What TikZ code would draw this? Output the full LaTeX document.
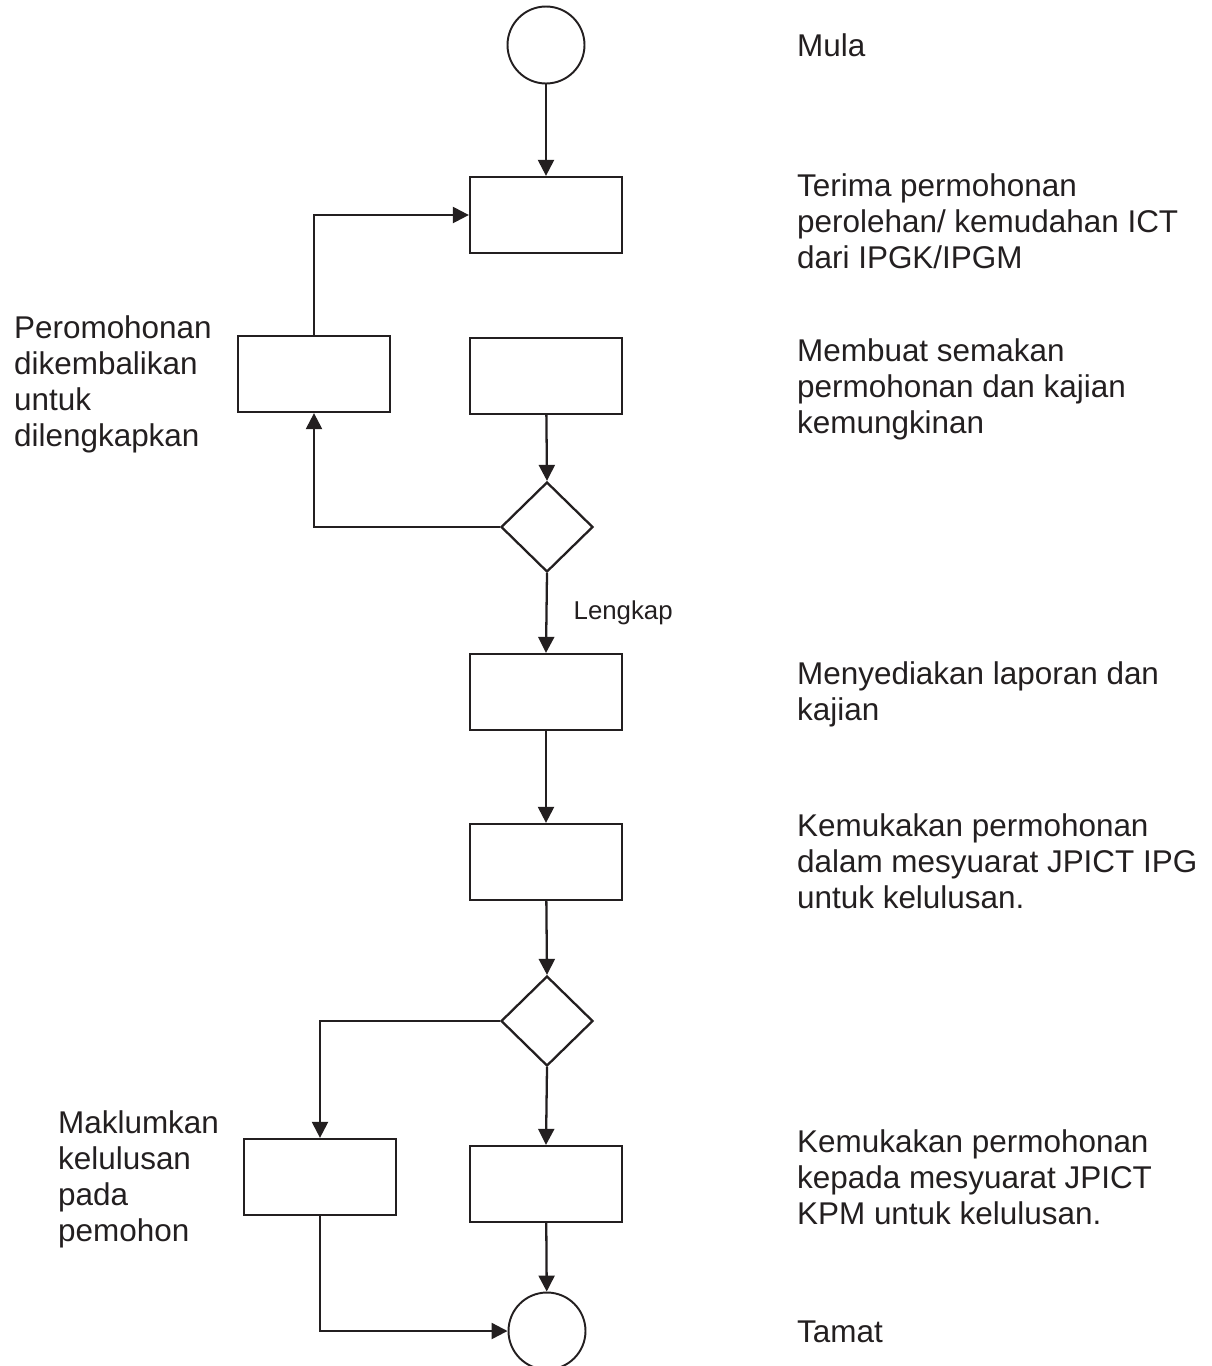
\documentclass[tikz,border=0pt]{standalone}
\usepackage{fontspec}
\setmainfont{Liberation Sans}
\usetikzlibrary{arrows.meta,shapes.geometric}
\definecolor{ink}{HTML}{231F20}

\begin{document}
\begin{tikzpicture}[x=0.02cm, y=-0.02cm, >={Triangle[length=0.32cm,width=0.32cm]},
  line width=1.3pt, draw=ink, text=ink,
  stepbox/.style={draw, rectangle, minimum width=3.04cm, minimum height=1.52cm, inner sep=0},
  endpoint/.style={draw, circle, minimum size=1.54cm, inner sep=0, line width=1.1pt},
  choice/.style={draw, diamond, minimum width=1.84cm, minimum height=1.8cm, inner sep=0},
  note/.style={anchor=north west, inner sep=0, align=left, font=\fontsize{17.9}{20.4}\selectfont}]
  \useasboundingbox (0,0) rectangle (1212,1366);
  % main column
  \node[endpoint] (mula) at (546,45) {};
  \node[stepbox] (terima) at (546,215) {};
  \node[stepbox] (semak) at (546,376) {};
  \node[stepbox] (kembali) at (314,374) {};
  \node[choice] (periksa) at (547,527) {};
  \node[stepbox] (laporan) at (546,692) {};
  \node[stepbox] (ipg) at (546,862) {};
  \node[choice] (keputusan) at (547,1021) {};
  \node[stepbox] (maklum) at (320,1177) {};
  \node[stepbox] (kpm) at (546,1184) {};
  \node[endpoint] (tamat) at (547,1331) {};
  % connectors
  \draw[->] (mula) -- (terima);
  \draw[->] (semak) -- (periksa.north);
  \draw[->] (periksa.west) -| (kembali.south);
  \draw[->] (kembali.north) |- (terima.west);
  \draw[->] (periksa.south) -- node[pos=0.5, right=0.52cm, inner sep=0,
    font=\fontsize{14.7}{17}\selectfont] (lengkap) {Lengkap} (laporan.north);
  \draw[->] (laporan) -- (ipg);
  \draw[->] (ipg) -- (keputusan.north);
  \draw[->] (keputusan.west) -| (maklum.north);
  \draw[->] (keputusan.south) -- (kpm.north);
  \draw[->] (kpm) -- (tamat);
  \draw[->] (maklum.south) |- (tamat.west);
  % descriptions
  \node[note] (tMula) at (796,33) {Mula};
  \node[note] (tTerima) at (796,173) {Terima permohonan\\perolehan/ kemudahan ICT\\dari IPGK/IPGM};
  \node[note] (tSemak) at (796,338) {Membuat semakan\\permohonan dan kajian\\kemungkinan};
  \node[note] (tLaporan) at (796,661) {Menyediakan laporan dan\\kajian};
  \node[note] (tIpg) at (796,813) {Kemukakan permohonan\\dalam mesyuarat JPICT IPG\\untuk kelulusan.};
  \node[note] (tKpm) at (796,1129) {Kemukakan permohonan\\kepada mesyuarat JPICT\\KPM untuk kelulusan.};
  \node[note] (tTamat) at (796,1320) {Tamat};
  \node[note] (tKembali) at (13,315) {Peromohonan\\dikembalikan\\untuk\\dilengkapkan};
  \node[note] (tMaklum) at (57,1110) {Maklumkan\\kelulusan\\pada\\pemohon};
\end{tikzpicture}
\end{document}
